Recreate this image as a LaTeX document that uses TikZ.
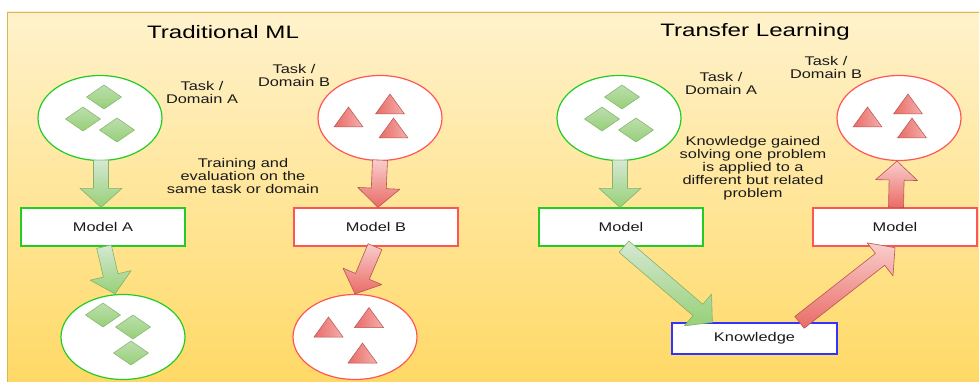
\documentclass[tikz,border=0pt]{standalone}
\usepackage{fontspec}
\newfontfamily\bodyfont{Liberation Sans}[FakeStretch=1.3]
\newfontfamily\headfont{Liberation Sans}[FakeStretch=1.34]
\usetikzlibrary{calc,shapes.geometric}

\definecolor{bgtop}{HTML}{FFF2CC}
\definecolor{bgbot}{HTML}{FFD966}
\definecolor{bgline}{HTML}{D6B656}
\definecolor{gline}{HTML}{22CC22}
\definecolor{rline}{HTML}{FF5555}
\definecolor{bline}{HTML}{3333FF}
\definecolor{gfillA}{HTML}{D5E8D4}
\definecolor{gfillB}{HTML}{97D077}
\definecolor{gstroke}{HTML}{82B366}
\definecolor{rfillA}{HTML}{F8CECC}
\definecolor{rfillB}{HTML}{EA6B66}
\definecolor{rstroke}{HTML}{B85450}
\definecolor{ink}{HTML}{1A1A1A}

% thick block arrow from #2 to #3, drawn with style #1
\newcommand\blockarrow[3]{%
  \path[#1] let \p1=(#2), \p2=(#3), \n1={atan2(\y2-\y1,\x2-\x1)} in
    ($(\p1)+(\n1+90:7.5pt)$)
    -- ($(\p2)+(\n1+180:19pt)+(\n1+90:7.5pt)$)
    -- ($(\p2)+(\n1+180:19pt)+(\n1+90:21pt)$)
    -- (\p2)
    -- ($(\p2)+(\n1+180:19pt)+(\n1-90:21pt)$)
    -- ($(\p2)+(\n1+180:19pt)+(\n1-90:7.5pt)$)
    -- ($(\p1)+(\n1-90:7.5pt)$) -- cycle;}

\begin{document}
\begin{tikzpicture}[x=1pt,y=-1pt,
  every node/.style={text=ink},
  txt/.style={font=\bodyfont\fontsize{12.6}{13}\selectfont, align=center, inner sep=0pt},
  heading/.style={font=\headfont\fontsize{18}{20}\selectfont, text=black, inner sep=0pt},
  circG/.style={ellipse, draw=gline, line width=1.2pt, fill=white, minimum width=124pt, minimum height=85pt, inner sep=0pt},
  circR/.style={ellipse, draw=rline, line width=1.2pt, fill=white, minimum width=124pt, minimum height=85pt, inner sep=0pt},
  boxbase/.style={rectangle, fill=white, line width=1.3pt, minimum width=164pt, minimum height=38pt, inner sep=0pt, font=\bodyfont\fontsize{12.6}{13}\selectfont},
  boxG/.style={boxbase, draw=gline},
  boxR/.style={boxbase, draw=rline},
  boxK/.style={boxbase, draw=bline, minimum width=165pt, minimum height=31pt},
  garrow/.style={draw=gstroke, line width=0.6pt, line join=round, top color=gfillA, bottom color=gfillB},
  rarrow/.style={draw=rstroke, line width=0.6pt, line join=round, top color=rfillA, bottom color=rfillB},
  gem/.pic={\path[draw=gstroke, line width=0.5pt, top color=gfillA!60!gfillB, bottom color=gfillB]
      (-17.5,0) -- (0,-12) -- (17.5,0) -- (0,12) -- cycle;},
  tri/.pic={\path[draw=rstroke, line width=0.5pt, left color=rfillB, right color=rfillA!70!rfillB]
      (-14.5,10) -- (0,-10) -- (14.5,10) -- cycle;}
]
\useasboundingbox (0,0) rectangle (979,382);

% backdrop
\path[top color=bgtop, bottom color=bgbot] (7,12) rectangle (981,384);
\draw[bgline, line width=0.8pt] (7,384) -- (7,12) -- (981,12);

% headings
\node[heading] (h1) at (223,32) {Traditional ML};
\node[heading] (h2) at (755,32) {Transfer Learning};

% ---------- traditional ML ----------
\node[circG] (ca1) at (100,118) {};
\node[circR] (cb1) at (380,118) {};
\node[boxG] (ma) at (103,227) {Model A};
\node[boxR] (mb) at (376,227) {Model B};
\node[circG] (ca2) at (123,337) {};
\node[circR] (cb2) at (355,337) {};

\pic at (104,97) {gem};
\pic at (83,119) {gem};
\pic at (117,130) {gem};
\pic at (348.5,117) {tri};
\pic at (390,104) {tri};
\pic at (393.5,128) {tri};
\pic at (103,315) {gem};
\pic at (133,327) {gem};
\pic at (131,353) {gem};
\pic at (328.5,327) {tri};
\pic at (369,317.5) {tri};
\pic at (362.5,353) {tri};

\node[txt] (ta1) at (202,92.5) {Task /\\Domain A};
\node[txt] (tb1) at (294,75.5) {Task /\\Domain B};
\node[txt] (same) at (243,176) {Training and\\evaluation on the\\same task or domain};

\blockarrow{garrow}{$(ca1.south)+(1,-1)$}{$(ma.north)+(-2,0)$}
\blockarrow{rarrow}{$(cb1.south)+(0,-1)$}{$(mb.north)+(2,0)$}
\blockarrow{garrow}{$(ma.south)+(1,0)$}{$(ca2.north)+(-8,0)$}
\blockarrow{rarrow}{$(mb.south)+(-1,0)$}{cb2.north}

% ---------- transfer learning ----------
\node[circG] (ct1) at (619,118) {};
\node[circR] (ct2) at (899,118) {};
\node[boxG] (ml) at (621,227) {Model};
\node[boxR] (mr) at (895,227) {Model};
\node[boxK] (kn) at (754.5,338.5) {Knowledge};

\pic at (622,97) {gem};
\pic at (602,119) {gem};
\pic at (636,130) {gem};
\pic at (867.5,117) {tri};
\pic at (908,104) {tri};
\pic at (912,128) {tri};

\node[txt] (ta2) at (721,83.5) {Task /\\Domain A};
\node[txt] (tb2) at (826,67.5) {Task /\\Domain B};
\node[txt] (gain) at (753,168) {Knowledge gained\\solving one problem\\is applied to a\\different but related\\problem};

\blockarrow{garrow}{$(ct1.south)+(1,-1)$}{$(ml.north)+(-1,0)$}
\blockarrow{garrow}{$(ml.south)+(3,0)$}{$(kn.north west)+(41,0)$}
\blockarrow{rarrow}{$(kn.north)+(45,0)$}{$(mr.south)+(0,1)$}
\blockarrow{rarrow}{$(mr.north)+(1,0)$}{$(ct2.south)+(-2,0)$}
\end{tikzpicture}
\end{document}
